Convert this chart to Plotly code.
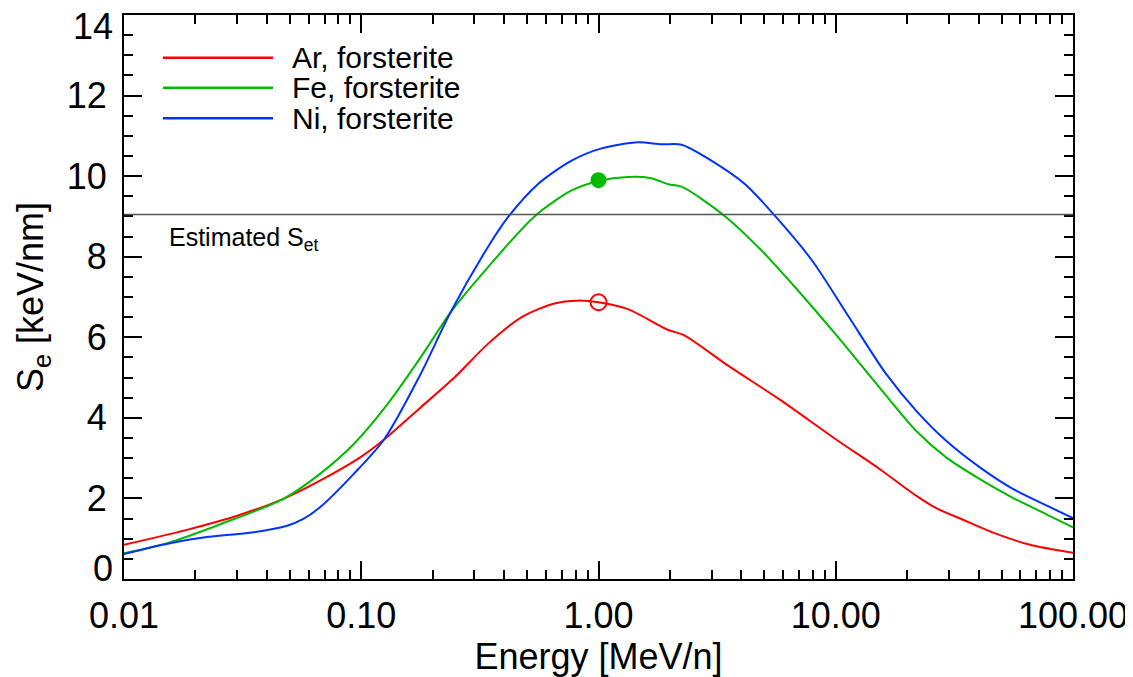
import plotly.graph_objects as go

# Energy [MeV/n] and electronic stopping Se [keV/nm]
ar_E = [0.01, 0.0184, 0.030, 0.047, 0.067, 0.099, 0.123, 0.178, 0.247, 0.341, 0.471, 0.652, 0.818,
        1.0, 1.33, 1.97, 2.28, 3.53, 5.75, 10.0, 15.3, 21.8, 26.5, 34.4, 47.6, 65.9, 100.0]
ar_S = [0.85, 1.22, 1.57, 1.99, 2.44, 3.02, 3.43, 4.26, 5.00, 5.83, 6.49, 6.84, 6.91,
        6.87, 6.70, 6.18, 6.06, 5.29, 4.47, 3.47, 2.73, 2.07, 1.76, 1.47, 1.12, 0.85, 0.65]

fe_E = [0.01, 0.0156, 0.0255, 0.047, 0.067, 0.093, 0.129, 0.178, 0.238, 0.341, 0.537, 0.767,
        1.0, 1.33, 1.67, 1.97, 2.24, 3.42, 4.89, 6.77, 10.0, 15.3, 21.8, 29.2, 40.5, 56.0, 77.6, 100.0]
fe_S = [0.64, 0.91, 1.36, 1.99, 2.61, 3.35, 4.34, 5.50, 6.62, 7.73, 9.00, 9.64,
        9.88, 9.98, 9.95, 9.80, 9.74, 9.00, 8.14, 7.23, 6.07, 4.75, 3.68, 3.02, 2.48, 2.01, 1.60, 1.28]

ni_E = [0.01, 0.0156, 0.0216, 0.0352, 0.0487, 0.057, 0.067, 0.093, 0.125, 0.178, 0.238, 0.341, 0.414,
        0.555, 0.767, 1.03, 1.47, 1.84, 2.24, 3.0, 4.15, 5.57, 7.96, 11.4, 16.3, 21.8, 29.2,
        40.5, 56.0, 77.6, 100.0]
ni_S = [0.62, 0.89, 1.03, 1.16, 1.32, 1.49, 1.78, 2.61, 3.47, 5.09, 6.62, 8.23, 8.97,
        9.80, 10.38, 10.69, 10.84, 10.79, 10.78, 10.38, 9.80, 9.00, 7.90, 6.49, 5.09, 4.18, 3.43,
        2.77, 2.23, 1.82, 1.51]

names = ["Ar, forsterite", "Fe, forsterite", "Ni, forsterite"]
colors = ["#ff0000", "#00bb00", "#0033ff"]

point_E = [1.0, 1.0]
point_S = [6.87, 9.90]
S_et = 9.05

xtick_vals = [0.01, 0.1, 1, 10, 100]
xtick_text = ["0.01", "0.10", "1.00", "10.00", "100.00"]
ytick_vals = [0, 2, 4, 6, 8, 10, 12, 14]
ytick_text = ["", "2", "4", "6", "8", "10", "12", ""]
yend_vals = [0, 14]
yend_text = ["0", "14"]

FONT = "Liberation Sans, Arial, Helvetica, sans-serif"

fig = go.Figure()
for E, S, n, c in zip([ar_E, fe_E, ni_E], [ar_S, fe_S, ni_S], names, colors):
    fig.add_trace(go.Scatter(x=E, y=S, name=n, mode="lines",
                             line=dict(color=c, width=2, shape="spline", smoothing=0.8),
                             showlegend=False))

fig.add_trace(go.Scatter(x=[point_E[0]], y=[point_S[0]], mode="markers", showlegend=False,
                         marker=dict(symbol="circle-open", size=16, color=colors[0],
                                     line=dict(width=2, color=colors[0]))))
fig.add_trace(go.Scatter(x=[point_E[1]], y=[point_S[1]], mode="markers", showlegend=False,
                         marker=dict(symbol="circle", size=16, color=colors[1])))

# Estimated threshold line
fig.add_shape(type="line", xref="paper", x0=0, x1=1, yref="y", y0=S_et, y1=S_et,
              line=dict(color="#555555", width=1.5))
fig.add_annotation(x=0.045, xref="paper", y=S_et - 0.6, yref="y", xanchor="left", yanchor="middle",
                   text="Estimated S<sub>et</sub>", showarrow=False,
                   font=dict(family=FONT, size=25, color="black"))

# Manual legend
leg_y = [0.924, 0.871, 0.817]
for n, c, yy in zip(names, colors, leg_y):
    fig.add_shape(type="line", xref="paper", yref="paper", x0=0.041, x1=0.157, y0=yy, y1=yy,
                  line=dict(color=c, width=2.5))
    fig.add_annotation(x=0.175, y=yy, xref="paper", yref="paper", xanchor="left", yanchor="middle",
                       text=n, showarrow=False, font=dict(family=FONT, size=30, color="black"))

# End labels of the y axis, nudged inside the axis span (as in the original)
for v, t, shift in zip(yend_vals, yend_text, [11, -11]):
    fig.add_annotation(x=0, xref="paper", y=v, yref="y", xanchor="right", yanchor="middle",
                       xshift=-9, yshift=shift, text=t, showarrow=False,
                       font=dict(family=FONT, size=36, color="black"))

axis_common = dict(showline=True, linecolor="black", linewidth=2, mirror="allticks",
                   ticks="inside", ticklen=18, tickwidth=2, tickcolor="black",
                   showgrid=False, zeroline=False, ticklabeloverflow="allow",
                   tickfont=dict(family=FONT, size=36, color="black"))

fig.update_xaxes(type="log", range=[-2, 2], tickvals=xtick_vals, ticktext=xtick_text,
                 minor=dict(ticks="inside", ticklen=9, tickwidth=2, tickcolor="black",
                            dtick="D1", showgrid=False),
                 title=dict(text="Energy [MeV/n]", font=dict(family=FONT, size=36, color="black"),
                            standoff=4),
                 ticklabelstandoff=4, **axis_common)
fig.update_yaxes(range=[0, 14], tickvals=ytick_vals, ticktext=ytick_text,
                 minor=dict(ticks="inside", ticklen=9, tickwidth=2, tickcolor="black",
                            dtick=0.5, showgrid=False),
                 title=dict(text="S<sub>e</sub> [keV/nm]", font=dict(family=FONT, size=36, color="black"),
                            standoff=12),
                 ticklabelstandoff=8, **axis_common)

fig.update_layout(width=1125, height=669, plot_bgcolor="white", paper_bgcolor="white",
                  margin=dict(l=116, r=60, t=7, b=98, autoexpand=False),
                  font=dict(family=FONT, color="black"))

fig.write_html("out.html")
